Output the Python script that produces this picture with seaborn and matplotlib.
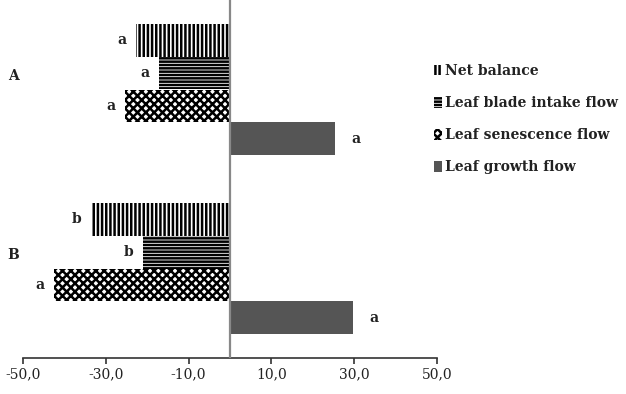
import matplotlib
matplotlib.use("Agg")
import matplotlib.pyplot as plt
import matplotlib.transforms as mtransforms
import seaborn as sns
import pandas as pd

# ---- data ----
groups = ["A", "B"]
series = ["Net balance", "Leaf blade intake flow", "Leaf senescence flow", "Leaf growth flow"]
net_balance = [-22.7, -33.5]
intake_flow = [-17.1, -21.0]
senescence_flow = [-25.3, -42.4]
growth_flow = [25.3, 29.6]
letters_net = ["a", "b"]
letters_intake = ["a", "b"]
letters_senescence = ["a", "a"]
letters_growth = ["a", "a"]
xticks = [-50, -30, -10, 10, 30, 50]

values = [net_balance, intake_flow, senescence_flow, growth_flow]
letters = [letters_net, letters_intake, letters_senescence, letters_growth]

rows = []
for s, vals in zip(series, values):
    for g, v in zip(groups, vals):
        rows.append({"group": g, "series": s, "value": v})
df = pd.DataFrame(rows)

sns.set_style("white")
plt.rcParams["font.family"] = ["DejaVu Serif"]
plt.rcParams["hatch.linewidth"] = 1.8

fig = plt.figure(figsize=(6.26, 3.94), dpi=100)
ax = fig.add_axes([23 / 626, 1 - 358 / 394, (437 - 23) / 626, 358 / 394])

palette = ["white", "white", "white", "#555555"]
sns.barplot(data=df, x="value", y="group", hue="series", hue_order=series,
            order=groups, orient="h", width=0.73, palette=palette,
            saturation=1, legend=False, ax=ax, errorbar=None)

styles = [
    dict(hatch="||||", edgecolor="black", facecolor="white"),
    dict(hatch="-----", edgecolor="black", facecolor="white"),
    dict(hatch="xxxx", edgecolor="black", facecolor="white"),
    dict(hatch=None, edgecolor="#555555", facecolor="#555555"),
]
for cont, st in zip(ax.containers, styles):
    for p in cont.patches:
        p.set_facecolor(st["facecolor"])
        p.set_edgecolor(st["edgecolor"])
        p.set_hatch(st["hatch"])
        p.set_linewidth(0)

for i, (cont, labs) in enumerate(zip(ax.containers, letters)):
    pad = 12 if i == 3 else 7
    ax.bar_label(cont, labels=labs, padding=pad, fontsize=10, fontweight="bold",
                 color="#222222")

ax.axvline(0, color="#888888", lw=1.6, zorder=5)

ax.set_xlim(-50, 50)
ax.set_xticks(xticks)
ax.set_xticklabels([f"{t:.1f}".replace(".", ",") for t in xticks], fontsize=10,
                   color="#222222")
ax.set_xlabel("")
ax.set_ylabel("")
ax.tick_params(axis="x", direction="out", length=4, width=1.2, color="#333333",
               pad=3, bottom=True)
ax.tick_params(axis="y", length=0, pad=3, labelsize=10)
for lab in ax.get_yticklabels():
    lab.set_fontweight("bold")
    lab.set_color("#222222")
    lab.set_transform(lab.get_transform() +
                      mtransforms.ScaledTranslation(0, 11 / 72, fig.dpi_scale_trans))

for side in ["left", "right", "top"]:
    ax.spines[side].set_visible(False)
ax.spines["bottom"].set_color("#333333")
ax.spines["bottom"].set_linewidth(1.2)

leg = fig.legend(ax.containers, series, loc="upper left",
                 bbox_to_anchor=(434 / 626, 1 - 64 / 394), frameon=False,
                 handlelength=0.6, handleheight=0.8, handletextpad=0.2,
                 labelspacing=1.3, borderaxespad=0, borderpad=0,
                 prop={"family": "DejaVu Serif", "weight": "bold", "size": 10})
for t in leg.get_texts():
    t.set_color("#222222")

fig.savefig("out.png", dpi=100)
